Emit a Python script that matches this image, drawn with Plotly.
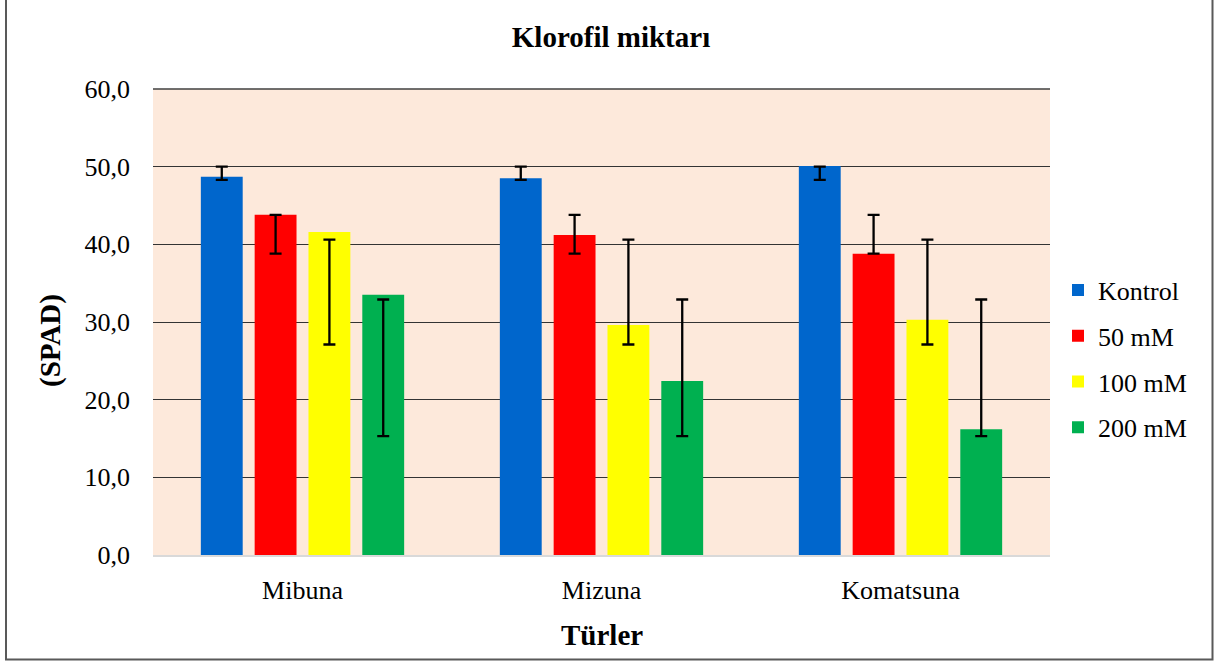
import plotly.graph_objects as go

categories = ["Mibuna", "Mizuna", "Komatsuna"]
series_names = ["Kontrol", "50 mM", "100 mM", "200 mM"]
kontrol = [48.7, 48.5, 50.1]
mm50 = [43.8, 41.2, 38.8]
mm100 = [41.6, 29.6, 30.3]
mm200 = [33.5, 22.4, 16.2]
# error bar ends (upper / lower)
kontrol_hi = [50.0, 50.0, 50.0]
kontrol_lo = [48.3, 48.3, 48.3]
mm50_hi = [43.8, 43.8, 43.8]
mm50_lo = [38.8, 38.8, 38.8]
mm100_hi = [40.6, 40.6, 40.6]
mm100_lo = [27.1, 27.1, 27.1]
mm200_hi = [32.9, 32.9, 32.9]
mm200_lo = [15.3, 15.3, 15.3]
y_ticks = [0, 10, 20, 30, 40, 50, 60]

values = [kontrol, mm50, mm100, mm200]
highs = [kontrol_hi, mm50_hi, mm100_hi, mm200_hi]
lows = [kontrol_lo, mm50_lo, mm100_lo, mm200_lo]
colors = ["#0066CC", "#FF0000", "#FFFF00", "#00B050"]

FONT = "Liberation Serif, Times New Roman, serif"
step = 0.18
bw = 0.14

W, H = 1222, 666
L, R, T, B = 153, 172, 89, 111
PW, PH = W - L - R, H - T - B

def px_x(x):
    return (x - L) / PW

def px_y(y):
    return (H - B - y) / PH

fig = go.Figure()
for j, (name, vals, col) in enumerate(zip(series_names, values, colors)):
    xs = [i + (j - 1.5) * step for i in range(len(categories))]
    fig.add_trace(go.Bar(
        x=xs, y=vals, width=bw, name=name, marker=dict(color=col, line=dict(width=0)),
        legendgroup=name,
    ))
for j, name in enumerate(series_names):
    xs = [i + (j - 1.5) * step for i in range(len(categories))]
    hi, lo = highs[j], lows[j]
    mids = [(a + b) / 2 for a, b in zip(hi, lo)]
    half = [(a - b) / 2 for a, b in zip(hi, lo)]
    fig.add_trace(go.Scatter(
        x=xs, y=mids, mode="markers", marker=dict(size=1, opacity=0),
        error_y=dict(type="data", array=half, symmetric=True, color="black",
                     thickness=2.3, width=6),
        showlegend=False, hoverinfo="skip",
    ))

fig.update_layout(
    width=W, height=H,
    margin=dict(l=L, r=R, t=T, b=B),
    paper_bgcolor="white",
    plot_bgcolor="#FDE9DB",
    barmode="overlay",
    separators=",.",
    font=dict(family=FONT, color="black", size=26),
    title=dict(text="<b>Klorofil miktarı</b>", x=0.5, xanchor="center",
               y=1 - 37 / H, yanchor="middle", yref="container",
               font=dict(family=FONT, size=29, color="black")),
    legend=dict(x=px_x(1058), xanchor="left", y=px_y(359), yanchor="middle",
                font=dict(family=FONT, size=26, color="black"),
                tracegroupgap=9, itemsizing="constant", bgcolor="rgba(0,0,0,0)"),
    showlegend=True,
    annotations=[
        dict(text="<b>Türler</b>", xref="paper", yref="paper", x=0.5, y=px_y(635),
             xanchor="center", yanchor="middle", showarrow=False,
             font=dict(family=FONT, size=29, color="black")),
        dict(text="<b>(SPAD)</b>", xref="paper", yref="paper", x=px_x(50), y=px_y(341),
             xanchor="center", yanchor="middle", showarrow=False, textangle=-90,
             font=dict(family=FONT, size=29, color="black")),
    ],
    shapes=[
        dict(type="rect", xref="paper", yref="paper",
             x0=px_x(6), x1=px_x(1212.5), y0=px_y(659.5), y1=px_y(-4),
             line=dict(color="#595959", width=2), fillcolor="rgba(0,0,0,0)", layer="below"),
        dict(type="line", xref="x domain", yref="y domain", x0=0, x1=1, y0=1, y1=1,
             line=dict(color="#404040", width=1.6), layer="above"),
    ],
)
fig.update_xaxes(
    range=[-0.5, 2.5], tickmode="array", tickvals=list(range(len(categories))), ticktext=categories,
    showgrid=False, zeroline=False, showline=True, linecolor="#D9D9D9", linewidth=1.5,
    ticks="", tickfont=dict(family=FONT, size=26), ticklabelstandoff=11,
)
fig.update_yaxes(
    range=[0, 60], tickmode="array", tickvals=y_ticks, tickformat=".1f",
    showgrid=True, gridcolor="#333333", gridwidth=1.3, zeroline=False, showline=False,
    ticks="", tickfont=dict(family=FONT, size=26), ticklabelstandoff=22,
)

fig.write_html("out.html", config={"displayModeBar": False},
               post_script="document.body.style.margin='0';")
